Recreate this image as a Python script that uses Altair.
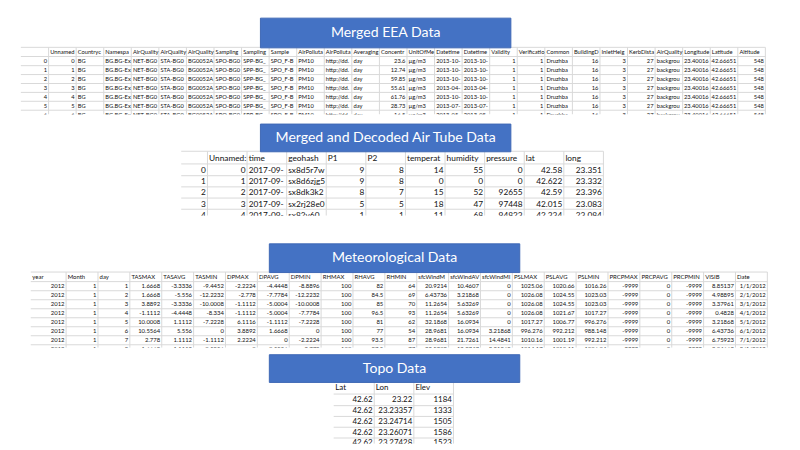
import altair as alt
import pandas as pd

# ------------------------------------------------------------------ data
TITLES = ["Merged EEA Data", "Merged and Decoded Air Tube Data", "Meteorological Data", "Topo Data"]

EEA_HEADERS = ["", "Unnamed: 0", "Countrycode", "Namespace", "AirQualityNetwork", "AirQualityStation",
               "AirQualityStationEoICode", "SamplingPoint", "SamplingProcess", "Sample", "AirPollutant",
               "AirPollutantCode", "AveragingTime", "Concentration", "UnitOfMeasurement", "DatetimeBegin",
               "DatetimeEnd", "Validity", "Verification", "CommonName", "BuildingDistance", "InletHeight",
               "KerbDistance", "AirQualityStationArea", "Longitude", "Latitude", "Altitude"]
EEA_CONC = [23.6, 12.74, 59.85, 55.61, 61.76, 28.73, 16.5]
EEA_BEGIN = ["2013-10-19 00:00:00", "2013-10-17 00:00:00", "2013-10-22 00:00:00", "2013-04-23 00:00:00",
             "2013-10-24 00:00:00", "2013-07-07 00:00:00", "2013-05-24 00:00:00"]
EEA_END = ["2013-10-20 00:00:00", "2013-10-18 00:00:00", "2013-10-23 00:00:00", "2013-04-24 00:00:00",
           "2013-10-25 00:00:00", "2013-07-08 00:00:00", "2013-05-25 00:00:00"]
EEA_ROWS = [[i, i, "BG", "BG.BG-ExEA", "NET-BG001A", "STA-BG0052A", "BG0052A", "SPO-BG0052A_00005_100",
             "SPP-BG_A_BETA_FAG", "SPO_F-BG0052A_00005_100_100", "PM10",
             "http://dd.eionet.europa.eu/vocabulary/aq/pollutant/5", "day", EEA_CONC[i], "\u00b5g/m3",
             EEA_BEGIN[i], EEA_END[i], 1, 1, "Druzhba", 16, 3, 27, "background", 23.40016, 42.66651, 548]
            for i in range(len(EEA_CONC))]

AIR_HEADERS = ["", "Unnamed: 0", "time", "geohash", "P1", "P2", "temperature", "humidity", "pressure", "lat", "long"]
AIR_ROWS = [
    [0, 0, "2017-09-01T00", "sx8d5r7wrj", 9, 8, 14, 55, 0, 42.58, 23.351],
    [1, 1, "2017-09-01T00", "sx8d6zjg5k", 9, 8, 0, 0, 0, 42.622, 23.332],
    [2, 2, "2017-09-01T00", "sx8dk3k2vb", 8, 7, 15, 52, 92655, 42.59, 23.396],
    [3, 3, "2017-09-01T00", "sx2rj28e0p", 5, 5, 18, 47, 97448, 42.015, 23.083],
    [4, 4, "2017-09-01T00", "sx82v60mqz", 1, 1, 11, 68, 94823, 42.334, 23.084],
]

MET_HEADERS = ["year", "Month", "day", "TASMAX", "TASAVG", "TASMIN", "DPMAX", "DPAVG", "DPMIN", "RHMAX",
               "RHAVG", "RHMIN", "sfcWindMAX", "sfcWindAVG", "sfcWindMIN", "PSLMAX", "PSLAVG", "PSLMIN",
               "PRCPMAX", "PRCPAVG", "PRCPMIN", "VISIB", "Date"]
MET_ROWS = [
    [2012, 1, 1, 1.6668, -3.3336, -9.4452, -2.2224, -4.4448, -8.8896, 100, 82, 64, 20.9214, 10.4607, 0,
     1025.06, 1020.66, 1016.26, -9999, 0, -9999, 8.85137, "1/1/2012"],
    [2012, 1, 2, 1.6668, -5.556, -12.2232, -2.778, -7.7784, -12.2232, 100, 84.5, 69, 6.43736, 3.21868, 0,
     1026.08, 1024.55, 1023.03, -9999, 0, -9999, 4.98895, "2/1/2012"],
    [2012, 1, 3, 3.8892, -3.3336, -10.0008, -1.1112, -5.0004, -10.0008, 100, 85, 70, 11.2654, 5.63269, 0,
     1026.08, 1024.55, 1023.03, -9999, 0, -9999, 3.37961, "3/1/2012"],
    [2012, 1, 4, -1.1112, -4.4448, -8.334, -1.1112, -5.0004, -7.7784, 100, 96.5, 93, 11.2654, 5.63269, 0,
     1026.08, 1021.67, 1017.27, -9999, 0, -9999, 0.4828, "4/1/2012"],
    [2012, 1, 5, 10.0008, 1.1112, -7.2228, 6.1116, -1.1112, -7.2228, 100, 81, 62, 32.1868, 16.0934, 0,
     1017.27, 1006.77, 996.276, -9999, 0, -9999, 3.21868, "5/1/2012"],
    [2012, 1, 6, 10.5564, 5.556, 0, 3.8892, 1.6668, 0, 100, 77, 54, 28.9681, 16.0934, 3.21868,
     996.276, 992.212, 988.148, -9999, 0, -9999, 6.43736, "6/1/2012"],
    [2012, 1, 7, 2.778, 1.1112, -1.1112, 2.2224, 0, -2.2224, 100, 93.5, 87, 28.9681, 21.7261, 14.4841,
     1010.16, 1001.19, 992.212, -9999, 0, -9999, 6.75923, "7/1/2012"],
    [2012, 1, 8, 1.6668, 1.1112, -0.5556, 0, -0.5556, -2.778, 100, 87.5, 77, 22.5308, 12.8747, 3.21868,
     1014.17, 1010.11, 1006.04, -9999, 0, -9999, 8.04669, "8/1/2012"],
]

TOPO_HEADERS = ["Lat", "Lon", "Elev"]
TOPO_ROWS = [
    [42.62, 23.22, 1184],
    [42.62, 23.23357, 1333],
    [42.62, 23.24714, 1505],
    [42.62, 23.26071, 1586],
    [42.62, 23.27428, 1523],
]

# ------------------------------------------------------------------ layout (image pixels)
LAYOUT = {
    "eea": dict(left=21, widths=[28] + [27.85] * 26, top=45.5, header_y=50, row_y0=59.5, row_h=9,
                cut=113.3, fs=5.8, right_str=()),
    "air": dict(left=183, widths=[26.5] + [40] * 10, top=150.5, header_y=157, row_y0=169.5, row_h=11.3,
                cut=215.5, fs=8.4, right_str=()),
    "met": dict(left=31, widths=[35.7] + [32.2] * 22, top=272.5, header_y=277.5, row_y0=286.8, row_h=9.1,
                cut=349, fs=6.0, right_str=(22,)),
    "topo": dict(left=337, widths=[41, 40, 40], top=384, header_y=389.5, row_y0=402, row_h=10.9,
                 cut=446, fs=8.0, right_str=()),
}
BOXES = [  # x1, x2, y1, y2
    (263, 516, 16, 46),
    (263, 516, 123, 151),
    (272, 525, 244, 273),
    (272, 525, 356, 384),
]
PAD = 1.6
GRID = "#d9d9d9"
BLUE = "#4472C4"

TABLES = [("eea", EEA_HEADERS, EEA_ROWS), ("air", AIR_HEADERS, AIR_ROWS),
          ("met", MET_HEADERS, MET_ROWS), ("topo", TOPO_HEADERS, TOPO_ROWS)]

texts, rules, covers = [], [], []
for key, headers, rows in TABLES:
    lay = LAYOUT[key]
    edges = [lay["left"]]
    for w in lay["widths"]:
        edges.append(edges[-1] + w)
    for c, h in enumerate(headers):
        if h:
            texts.append(dict(tbl=key, x=edges[c] + PAD, y=lay["header_y"], text=h, side="left"))
    for r, row in enumerate(rows):
        y = lay["row_y0"] + r * lay["row_h"]
        for c, v in enumerate(row):
            if isinstance(v, (int, float)) or c in lay["right_str"]:
                texts.append(dict(tbl=key, x=edges[c + 1] - PAD, y=y, text=str(v), side="right"))
            else:
                texts.append(dict(tbl=key, x=edges[c] + PAD, y=y, text=str(v), side="left"))
    for e in edges[1:]:
        rules.append(dict(x=e, x2=e, y=lay["top"], y2=lay["cut"]))
    hys = [lay["top"], (lay["header_y"] + lay["row_y0"]) / 2]
    for r in range(len(rows)):
        yb = lay["row_y0"] + (r + 0.5) * lay["row_h"]
        if yb < lay["cut"]:
            hys.append(yb)
    for yy in hys:
        rules.append(dict(x=edges[0], x2=edges[-1], y=yy, y2=yy))
    covers.append(dict(x=edges[0] - 3, x2=edges[-1] + 3, y=lay["cut"], y2=lay["cut"] + 14))

text_df = pd.DataFrame(texts)
rule_df = pd.DataFrame(rules)
cover_df = pd.DataFrame(covers)
box_df = pd.DataFrame([dict(x=b[0], x2=b[1], y=b[2], y2=b[3], label=t,
                            cx=(b[0] + b[1]) / 2, cy=(b[2] + b[3]) / 2) for b, t in zip(BOXES, TITLES)])

xs = alt.Scale(domain=[8, 800], nice=False, zero=False)
ys = alt.Scale(domain=[8, 450], nice=False, zero=False, reverse=True)

layers = [
    alt.Chart(rule_df).mark_rule(color=GRID, strokeWidth=1).encode(
        x=alt.X("x:Q", scale=xs, axis=None), x2="x2:Q",
        y=alt.Y("y:Q", scale=ys, axis=None), y2="y2:Q")
]
for key, headers, rows in TABLES:
    lay = LAYOUT[key]
    for al in ["left", "right"]:
        sub = text_df[(text_df["tbl"] == key) & (text_df["side"] == al)]
        if len(sub) == 0:
            continue
        kw = {}
        if al == "left":
            kw = dict(limit=min(lay["widths"][1:]) - PAD - 0.3, ellipsis="\u200b")
        layers.append(
            alt.Chart(sub).mark_text(align=al, baseline="middle", font="Lato", fontSize=lay["fs"],
                                     color="#111111", **kw).encode(
                x=alt.X("x:Q", scale=xs, axis=None),
                y=alt.Y("y:Q", scale=ys, axis=None),
                text="text:N")
        )
layers.append(
    alt.Chart(cover_df).mark_rect(color="white").encode(
        x=alt.X("x:Q", scale=xs, axis=None), x2="x2:Q",
        y=alt.Y("y:Q", scale=ys, axis=None), y2="y2:Q")
)
layers.append(
    alt.Chart(box_df).mark_rect(fill=BLUE, stroke="#3F68B5", strokeWidth=1).encode(
        x=alt.X("x:Q", scale=xs, axis=None), x2="x2:Q",
        y=alt.Y("y:Q", scale=ys, axis=None), y2="y2:Q")
)
layers.append(
    alt.Chart(box_df).mark_text(color="white", font="Lato", fontSize=14.2, align="center",
                                baseline="middle").encode(
        x=alt.X("cx:Q", scale=xs, axis=None),
        y=alt.Y("cy:Q", scale=ys, axis=None),
        text="label:N")
)

chart = alt.layer(*layers).properties(
    width=792, height=442, padding=0,
    autosize=alt.AutoSizeParams(type="none"),
    background="white",
).configure_view(stroke=None)

chart.save("out.html", embed_options={"renderer": "svg", "actions": False})
